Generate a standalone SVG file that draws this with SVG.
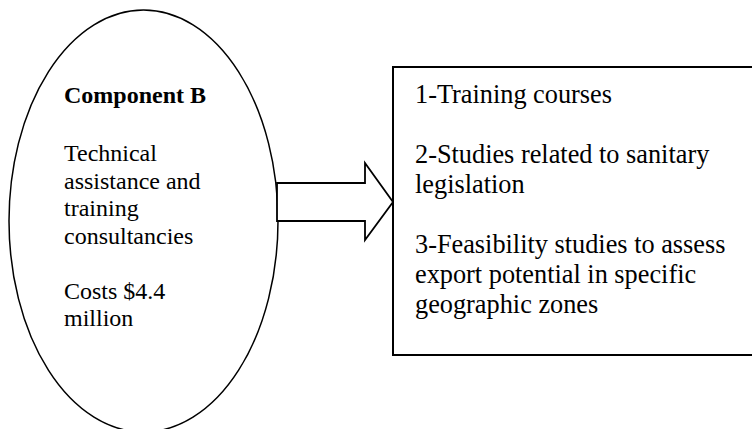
<svg xmlns="http://www.w3.org/2000/svg" width="752" height="429" viewBox="0 0 752 429">
<style>
.shape{fill:#fff;stroke:#000;}
.t{font-family:"Liberation Serif","Times New Roman",serif;fill:#000;}
.l{font-size:24px;}
.r{font-size:26.3px;}
.b{font-weight:bold;}
</style>
<rect width="752" height="429" fill="#fff"/>
<g id="componentB">
<ellipse class="shape" cx="143.5" cy="221" rx="134.5" ry="211" stroke-width="1.5"/>
<text class="t l b" x="64" y="103">Component B</text>
<text class="t l" x="64" y="161">Technical</text>
<text class="t l" x="64" y="188.5">assistance and</text>
<text class="t l" x="64" y="216">training</text>
<text class="t l" x="64" y="243.5">consultancies</text>
<text class="t l" x="64" y="298.5">Costs $4.4</text>
<text class="t l" x="64" y="326">million</text>
</g>
<g id="connectors">
<polygon class="shape" stroke-width="1.8" points="277,183 365,183 365,163 393,202 365,240 365,221 277,221"/>
</g>
<g id="activities">
<rect class="shape" x="393" y="67" width="370" height="288" stroke-width="2"/>
<text class="t r" x="415" y="103">1-Training courses</text>
<text class="t r" x="415" y="163">2-Studies related to sanitary</text>
<text class="t r" x="415" y="193">legislation</text>
<text class="t r" x="415" y="253">3-Feasibility studies to assess</text>
<text class="t r" x="415" y="283">export potential in specific</text>
<text class="t r" x="415" y="313">geographic zones</text>
</g>
</svg>
